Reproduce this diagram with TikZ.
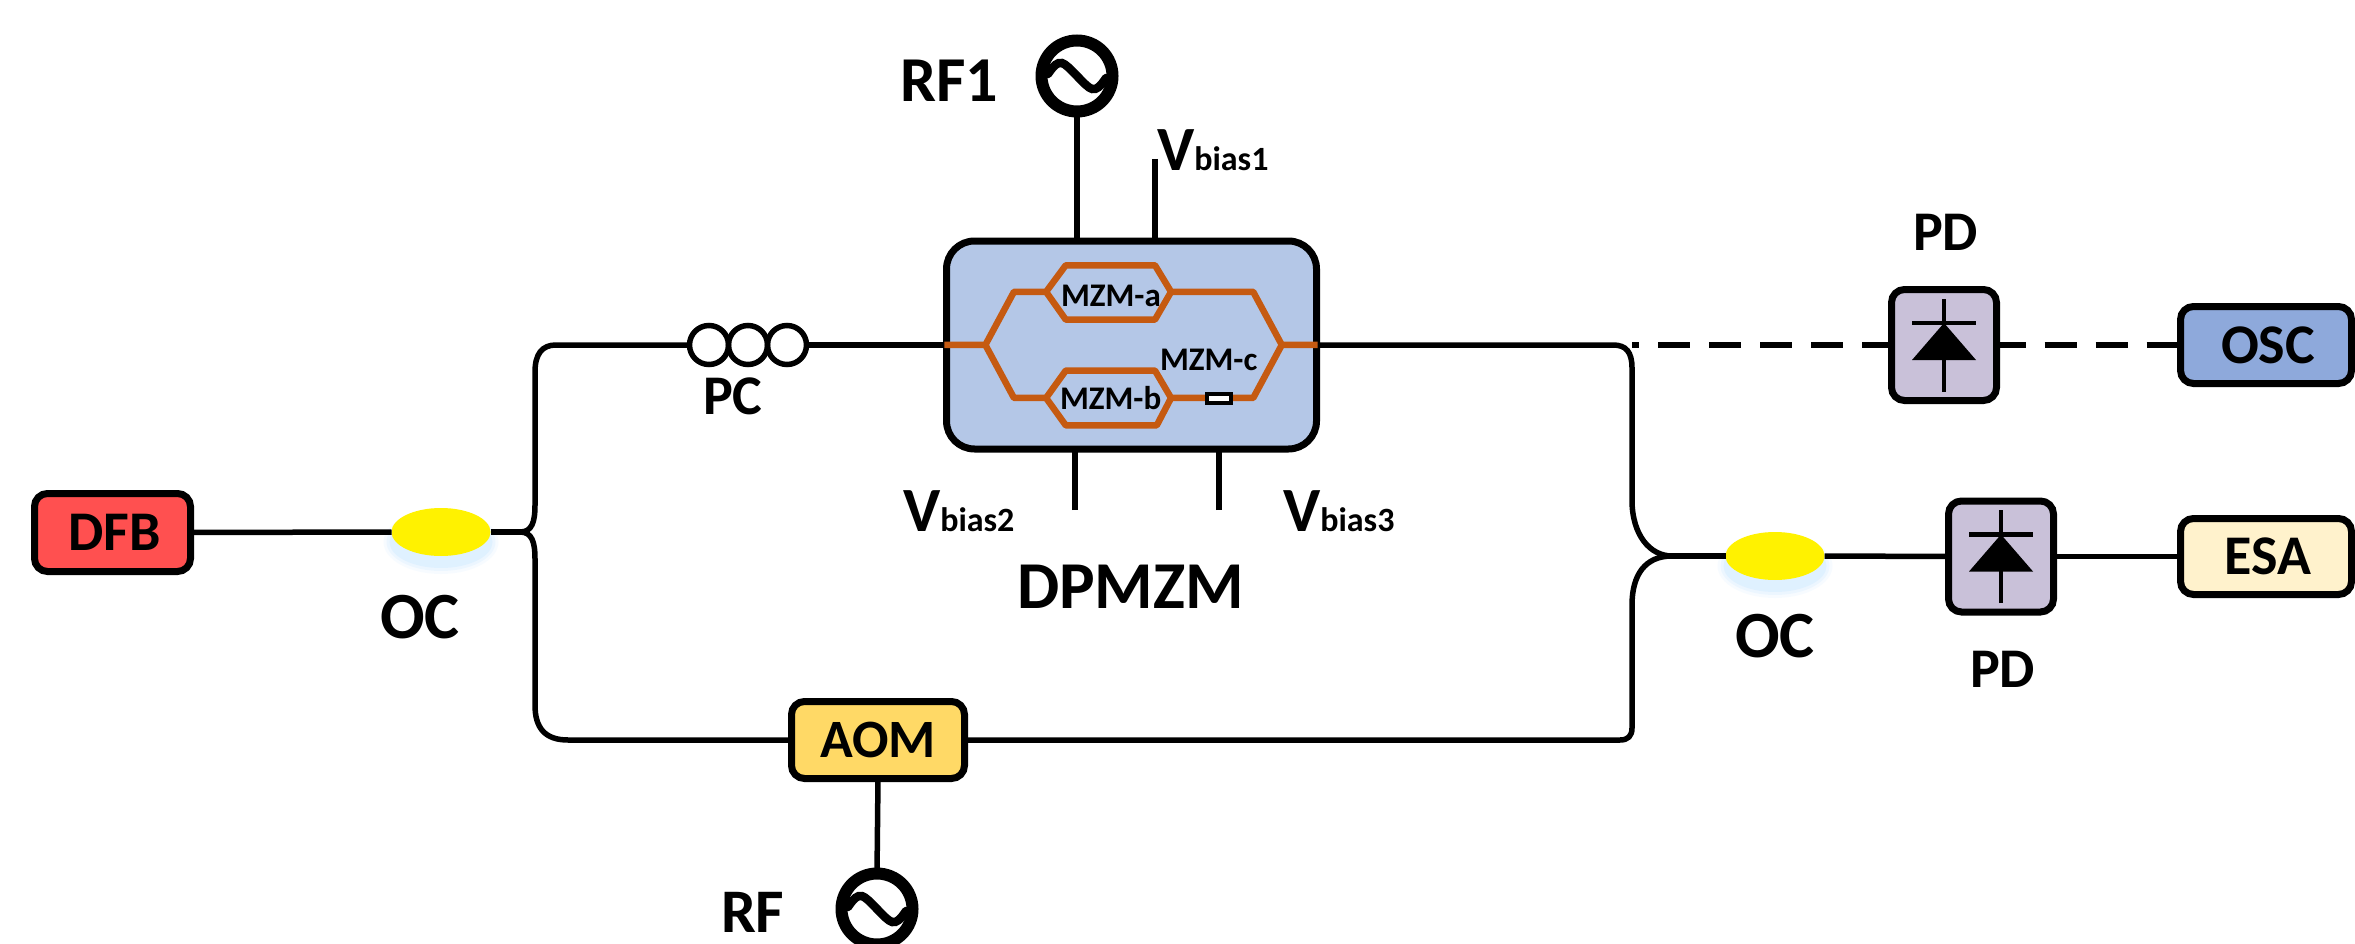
\documentclass[tikz,border=0pt]{standalone}
\usepackage{fontspec}
\setmainfont{Carlito}
\newcommand{\fs}[1]{\fontsize{#1}{#1}\selectfont}
\definecolor{dfbc}{HTML}{FF5050}
\definecolor{aomc}{HTML}{FFD966}
\definecolor{dpc}{HTML}{B4C7E7}
\definecolor{pdc}{HTML}{C9C1D9}
\definecolor{oscc}{HTML}{8EA9DB}
\definecolor{esac}{HTML}{FFF2CC}
\definecolor{wg}{HTML}{C55A11}
\usetikzlibrary{shapes.geometric}
\tikzset{
  fibre/.style={line width=5.5pt,draw=black},
  wire/.style={line width=6pt,draw=black},
  dev/.style={draw=black,line width=7pt,rounded corners=13pt,inner sep=0pt,outer sep=0pt,font=\bfseries\fs{56}},
  lab/.style={inner sep=0pt,outer sep=0pt,anchor=base west,font=\bfseries\fs{#1}},
  coupler/.style={ellipse,fill=yellow,inner sep=0pt,outer sep=0pt,minimum width=99pt,minimum height=48pt},
  coil/.style={circle,draw=black,line width=5.5pt,inner sep=0pt,outer sep=0pt,minimum size=39pt},
  source/.style={circle,draw=black,line width=12pt,inner sep=0pt,outer sep=0pt,minimum size=71pt},
  wave/.style={line width=6.5pt,draw=wg,line join=round},
  pdbox/.style={dev,fill=pdc,minimum width=105pt,minimum height=111pt},
}
\newcommand{\vlab}[3]{\node[lab=63] (#1) at (#2) {V\fs{34}#3};}
\begin{document}
\begin{tikzpicture}[x=1pt,y=-1pt]
\clip (0,0) rectangle (2355,944);
\fill[white] (0,0) rectangle (2355,944);

% soft shadows of the couplers
\foreach \cx/\cy in {441/532,1775/556}{
  \foreach \g/\o in {8/0.05,5/0.07,2/0.09}{
    \fill[blue!40!cyan!60!white,opacity=\o] (\cx,{\cy+10}) ellipse [x radius={(49.5+\g)*1pt},y radius={(24+\g)*1pt}];
  }
}

% devices
\node[dev,fill=dfbc,minimum width=156pt,minimum height=78pt] (dfb) at (112.5,532.5) {\hspace*{4pt}DFB};
\node[dev,fill=aomc,minimum width=173pt,minimum height=77pt,font=\bfseries\fs{54}] (aom) at (878,740) {AOM};
\node[dev,fill=dpc,minimum width=370pt,minimum height=208pt,rounded corners=28pt] (dp) at (1131.5,345) {};
\node[pdbox] (pd1) at (1944,345) {};
\node[pdbox] (pd2) at (2001,556.5) {};
\node[dev,fill=oscc,minimum width=171pt,minimum height=77pt] (osc) at (2266,345) {\hspace*{4pt}OSC};
\node[dev,fill=esac,minimum width=171pt,minimum height=76pt] (esa) at (2266,556.5) {\hspace*{4pt}ESA};
\node[coupler] (oc1) at (441,532) {};
\node[coupler] (oc2) at (1775,556) {};
\node[coil] (pc1) at (709,345) {};
\node[coil] (pc2) at (748,345) {};
\node[coil] (pc3) at (787,345) {};
\node[source] (rfa) at (1077,76) {};
\node[source] (rfb) at (877,909) {};

% tildes inside the sources
\foreach \s in {rfa,rfb}{
  \draw[line width=8.5pt,line cap=round] ([xshift=-29pt,yshift=2pt]\s.center)
    .. controls +(12,-18) and +(-14,-14) .. (\s.center)
    .. controls +(14,14) and +(-12,18) .. ([xshift=29pt,yshift=-2pt]\s.center);
}

% coordinates of the fibre junctions
\coordinate (s1) at (520,532);
\coordinate (s2) at (1672,556);
\coordinate (tap) at (1632,345);

% fibres
\draw[fibre] (dfb.east) -- (oc1.west);
\draw[fibre] (oc1.east) -- (s1);
\draw[fibre] (s1) .. controls (532,532) and (535,522) .. (535,505) -- (535,372) .. controls (535,354) and (542,345) .. (556,345) -- (pc1.west);
\draw[fibre] (s1) .. controls (532,532) and (535,542) .. (535,559) -- (535,705) .. controls (535,728) and (545,740) .. (568,740) -- (aom.west);
\draw[fibre] (pc3.east) -- (dp.west);
\draw[fibre] (dp.east) -- (1613,345) .. controls (1626,345) and (1632,352) .. (1632,368) -- (1632,500) .. controls (1632,535) and (1650,556) .. (s2);
\draw[fibre] (aom.east) -- (1620,740) .. controls (1628,740) and (1632,736) .. (1632,728) -- (1632,605) .. controls (1632,575) and (1645,556) .. (s2);
\draw[fibre] (s2) -- (oc2.west);
\draw[fibre] (oc2.east) -- (pd2.west);
\draw[fibre] (pd2.east) -- (esa.west);
\draw[fibre,dash pattern=on 32pt off 19pt,dash phase=2pt] (pd1.west) -- (tap);
\draw[fibre,dash pattern=on 32pt off 19pt,dash phase=3pt] (pd1.east) -- (osc.west);

% electrical
\coordinate (b1) at (1155,159);
\coordinate (b2) at (1075,510);
\coordinate (b3) at (1219,510);
\draw[wire] (rfa.south) -- (rfa.south |- dp.north);
\draw[wire] (b1) -- (b1 |- dp.north);
\draw[wire] (b2) -- (b2 |- dp.south);
\draw[wire] (b3) -- (b3 |- dp.south);
\draw[fibre] (aom.south) -- (rfb.north);

% waveguides of the DPMZM (coordinates in the crop's units)
\begin{scope}[shift={(880,0)},x=0.35714pt,y=-0.40816pt]
  \draw[wave] (180,845) -- (295,845) -- (375,715) -- (465,715) -- (520,650) -- (770,650) -- (815,715) -- (1045,715) -- (1125,845) -- (1225,845);
  \draw[wave] (465,715) -- (520,783) -- (770,783) -- (815,715);
  \draw[wave] (295,845) -- (375,975) -- (465,975) -- (520,908) -- (770,908) -- (815,975) -- (915,975);
  \draw[wave] (465,975) -- (520,1042) -- (775,1042) -- (815,975);
  \draw[wave] (983,975) -- (1045,975) -- (1125,845);
  \draw[line width=4pt,fill=white] (915,965) rectangle (983,987);
\end{scope}

% photodiode symbols
\foreach \n in {pd1,pd2}{
  \draw[line width=4.5pt] ([yshift=-46.5pt]\n.center) -- ([yshift=46.5pt]\n.center);
  \draw[line width=4.5pt] ([xshift=-32pt,yshift=22pt]\n.center) -- ([xshift=32pt,yshift=22pt]\n.center);
  \fill ([yshift=22pt]\n.center) -- ([xshift=32pt,yshift=-15pt]\n.center) -- ([xshift=-32pt,yshift=-15pt]\n.center) -- cycle;
}

% labels
\node[lab=64] (trf1) at (900,102) {RF1};
\node[lab=62] (trf) at (721,932) {RF};
\vlab{v1}{1157,171}{bias1}
\vlab{v2}{903,531}{bias2}
\vlab{v3}{1283,531}{bias3}
\node[lab=67] (tdp) at (1017,608) {DPMZM};
\node[lab=33] (ma) at (1061,306) {MZM-a};
\node[lab=33] (mb) at (1060,409) {MZM-b};
\node[lab=33] (mc) at (1160,370) {MZM-c};
\node[lab=56] (tpc) at (703,414) {PC};
\node[lab=66] (toc1) at (380,638) {OC};
\node[lab=66] (toc2) at (1735,657) {OC};
\node[lab=56] (tpd1) at (1913,251) {PD};
\node[lab=56] (tpd2) at (1970,687) {PD};
\end{tikzpicture}
\end{document}
